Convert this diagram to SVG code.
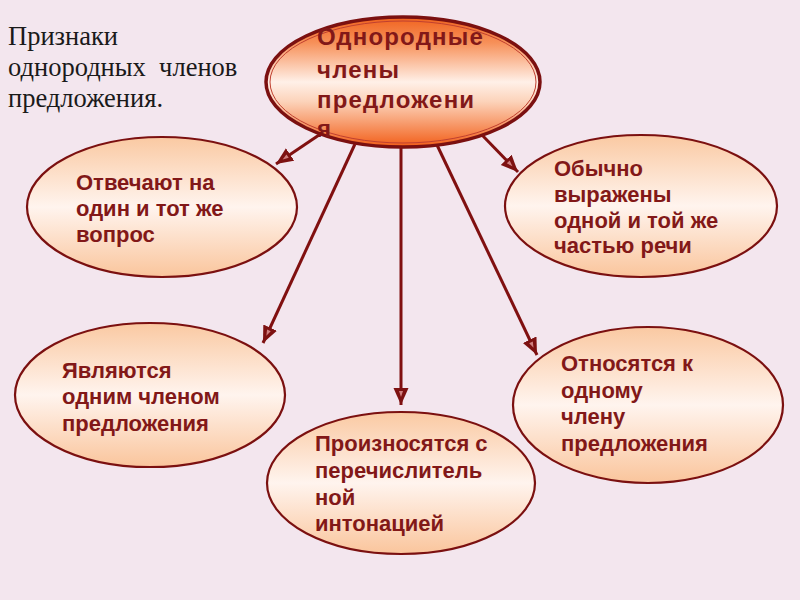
<svg xmlns="http://www.w3.org/2000/svg" width="800" height="600" viewBox="0 0 800 600">
<defs>
<linearGradient id="gTop" x1="0" y1="0" x2="0" y2="1">
<stop offset="0" stop-color="#F0621E"/>
<stop offset="0.2" stop-color="#F7915A"/>
<stop offset="0.5" stop-color="#FFF0E8"/>
<stop offset="0.65" stop-color="#FCD3BA"/>
<stop offset="1" stop-color="#F25E18"/>
</linearGradient>
<linearGradient id="gNode" x1="0" y1="0" x2="0" y2="1">
<stop offset="0" stop-color="#FAC9A2"/>
<stop offset="0.5" stop-color="#FFF4EE"/>
<stop offset="1" stop-color="#FAC59C"/>
</linearGradient>
<marker id="arr" markerUnits="userSpaceOnUse" markerWidth="20" markerHeight="16" refX="17" refY="7.5" orient="auto">
<path d="M0,0 L17,7.5 L0,15 z" fill="#7D1111"/>
<path d="M3,5.5 L9,7.5 L3,9.5 z" fill="#D08080"/>
</marker>
<style>
.ell{fill:url(#gNode);stroke:#7B1010;stroke-width:2.2}
.nt{font-family:"Liberation Sans",Arial,sans-serif;font-weight:bold;font-size:22px;fill:#821818}
.tt{font-family:"Liberation Sans",Arial,sans-serif;font-weight:bold;font-size:24px;fill:#821818;letter-spacing:1.2px}
.con{stroke:#801010;stroke-width:3;fill:none;marker-end:url(#arr)}
.title{font-family:"Liberation Serif","Times New Roman",serif;font-size:26.5px;fill:#1a1a1a}
</style>
</defs>
<rect x="0" y="0" width="800" height="600" fill="#F3E6EE"/>

<g id="title">
<text class="title" x="8" y="45">Признаки</text>
<text class="title" x="8" y="76" xml:space="preserve">однородных  членов</text>
<text class="title" x="8" y="107">предложения.</text>
</g>

<g id="node-main">
<ellipse cx="403" cy="82" rx="137" ry="65" fill="url(#gTop)" stroke="#7B1010" stroke-width="3.5"/>
<ellipse cx="403" cy="82" rx="133" ry="61" fill="none" stroke="#C04030" stroke-width="1"/>
<text class="tt" x="317" y="45">Однородные</text>
<text class="tt" x="317" y="78">члены</text>
<text class="tt" x="317" y="108">предложени</text>
<text class="tt" x="317" y="137">я</text>
</g>

<g id="node-q">
<ellipse class="ell" cx="162" cy="207" rx="135" ry="70"/>
<text class="nt" x="76" y="190">Отвечают на</text>
<text class="nt" x="76" y="216">один и тот же</text>
<text class="nt" x="76" y="242">вопрос</text>
</g>

<g id="node-pos">
<ellipse class="ell" cx="641" cy="206" rx="136" ry="71"/>
<text class="nt" x="554" y="176">Обычно</text>
<text class="nt" x="554" y="202">выражены</text>
<text class="nt" x="554" y="228">одной и той же</text>
<text class="nt" x="554" y="253">частью речи</text>
</g>

<g id="node-one">
<ellipse class="ell" cx="150" cy="395" rx="135" ry="72"/>
<text class="nt" x="62" y="378">Являются</text>
<text class="nt" x="62" y="404">одним членом</text>
<text class="nt" x="62" y="431">предложения</text>
</g>

<g id="node-int">
<ellipse class="ell" cx="401" cy="483" rx="134" ry="71"/>
<text class="nt" x="315" y="451">Произносятся с</text>
<text class="nt" x="315" y="478">перечислитель</text>
<text class="nt" x="315" y="505">ной</text>
<text class="nt" x="315" y="531">интонацией</text>
</g>

<g id="node-rel">
<ellipse class="ell" cx="648" cy="405" rx="135" ry="78"/>
<text class="nt" x="561" y="371">Относятся к</text>
<text class="nt" x="561" y="398">одному</text>
<text class="nt" x="561" y="424">члену</text>
<text class="nt" x="561" y="451">предложения</text>
</g>

<g id="connectors">
<line class="con" x1="322" y1="133" x2="276" y2="164"/>
<line class="con" x1="482" y1="135" x2="518" y2="172"/>
<line class="con" x1="355" y1="144" x2="263" y2="343"/>
<line class="con" x1="401" y1="147" x2="401" y2="405"/>
<line class="con" x1="437" y1="145" x2="537" y2="355"/>
</g>
</svg>
